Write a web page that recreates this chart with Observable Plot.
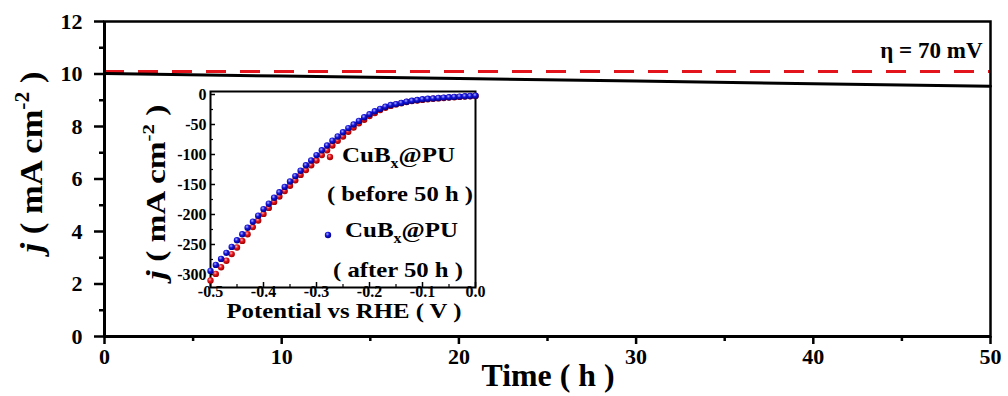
<!DOCTYPE html>
<html><head><meta charset="utf-8">
<script src="https://cdn.jsdelivr.net/npm/d3@7"></script>
<script src="https://cdn.jsdelivr.net/npm/@observablehq/plot@0.6"></script>
<style>
body{margin:0;background:#fff;}
#wrap{position:relative;width:1008px;height:396px;overflow:hidden;}
#inset{position:absolute;left:140px;top:84px;}
#wrap svg text, #wrap svg tspan{font-family:"Liberation Serif","Times New Roman",serif !important;font-weight:bold;white-space:pre;font-variant:normal !important;}
</style></head><body><div id="wrap"><div id="main"></div><div id="inset"></div></div>
<script>
// ---- main chart data ----
const timeH = [0, 10, 20, 30, 40, 50];
const jStab = [10.02, 9.92, 9.83, 9.73, 9.63, 9.53];
const etaLevel = [10.1];
const etaLabel = ["η = 70 mV"];
const xMajorTicks = [0, 10, 20, 30, 40, 50];
const xMinorTicks = [5, 15, 25, 35, 45];
const yMajorTicks = [0, 2, 4, 6, 8, 10, 12];
const yMinorTicks = [1, 3, 5, 7, 9, 11];

// ---- inset data ----
const potential = [-0.50,-0.49,-0.48,-0.47,-0.46,-0.45,-0.44,-0.43,-0.42,-0.41,-0.40,-0.39,-0.38,-0.37,-0.36,-0.35,-0.34,-0.33,-0.32,-0.31,-0.30,-0.29,-0.28,-0.27,-0.26,-0.25,-0.24,-0.23,-0.22,-0.21,-0.20,-0.19,-0.18,-0.17,-0.16,-0.15,-0.14,-0.13,-0.12,-0.11,-0.10,-0.09,-0.08,-0.07,-0.06,-0.05,-0.04,-0.03,-0.02,-0.01,0.00];
const jBefore = [-310,-299,-288,-277,-266,-255,-244,-233,-221,-210,-199,-189,-179,-170,-161,-152,-143,-134,-126,-118,-110,-101,-93,-85,-77,-70,-62,-55,-48,-42,-36,-31,-26,-22,-19,-16.5,-14.5,-12.5,-11,-10,-9,-8,-7.2,-6.5,-5.8,-5.2,-4.6,-4,-3.5,-3,-2.5];
const jAfter = [-294,-284,-274,-264,-254,-243,-233,-222,-212,-202,-191,-182,-172,-163,-154,-145,-136,-127,-118,-110,-101,-93,-85,-77,-70,-63,-56,-50,-44,-38,-33,-28,-24,-20.5,-17.5,-16,-14,-12,-10.5,-9.2,-8,-7.2,-6.5,-5.8,-5.2,-4.6,-4,-3.5,-3,-2.5,-2];
const inXTicks = [-0.5, -0.4, -0.3, -0.2, -0.1, 0.0];
const inXMinor = [-0.45, -0.35, -0.25, -0.15, -0.05];
const inYTicks = [0, -50, -100, -150, -200, -250, -300];
const inYMinor = [-25, -75, -125, -175, -225, -275];
const seriesNames = ["before 50 h", "after 50 h"];

const RED = "#e3141b", BLUE = "#1515dc";
const FONT = "Liberation Serif";

const stab = timeH.map((t, i) => ({t, j: jStab[i]}));

const mainSvg = Plot.plot({
  width: 1008, height: 396,
  marginLeft: 104, marginRight: 18, marginTop: 21, marginBottom: 60,
  x: {domain: [0, 50]},
  y: {domain: [0, 12]},
  style: {fontFamily: FONT, fontWeight: "bold", fontSize: "22px", color: "#000", background: "#fff", overflow: "visible"},
  marks: [
    Plot.ruleY(etaLevel, {stroke: RED, strokeWidth: 3, strokeDasharray: "20,14"}),
    Plot.line(stab, {x: "t", y: "j", stroke: "#000", strokeWidth: 3}),
    Plot.frame({strokeWidth: 2.5}),
    Plot.ruleY([0], {strokeWidth: 3}),
    Plot.ruleX([0], {strokeWidth: 3}),
    Plot.axisX({ticks: xMajorTicks, tickSize: 8, tickPadding: 4, strokeWidth: 2.5, fontSize: 22, fontFamily: FONT, label: null, tickFormat: d => String(d)}),
    Plot.axisX({ticks: xMinorTicks, tickSize: 5, strokeWidth: 2.5, label: null, tickFormat: () => ""}),
    Plot.axisY({ticks: yMajorTicks, tickSize: 10, tickPadding: 12, strokeWidth: 2.5, fontSize: 22, fontFamily: FONT, label: null, tickFormat: d => String(d)}),
    Plot.axisY({ticks: yMinorTicks, tickSize: 5, strokeWidth: 2.5, label: null, tickFormat: () => ""}),
    Plot.text(etaLabel, {x: () => 50, y: () => 10.9, textAnchor: "end", dx: -8, fontSize: 23, fontFamily: FONT})
  ]
});
document.getElementById("main").appendChild(mainSvg);

const ms = d3.select(mainSvg);
ms.append("text").attr("x", 548).attr("y", 386).attr("text-anchor", "middle")
  .attr("font-size", 31).attr("textLength", 133).attr("lengthAdjust", "spacingAndGlyphs").text("Time ( h )");
const yt = ms.append("text").attr("transform", "translate(42,162) rotate(-90)").attr("text-anchor", "middle")
  .attr("font-size", 32).attr("textLength", 181).attr("lengthAdjust", "spacingAndGlyphs");
yt.append("tspan").attr("font-style", "italic").text("j");
yt.append("tspan").text(" ( mA cm");
yt.append("tspan").attr("font-size", 20).attr("dy", -13).text("-2");
yt.append("tspan").attr("dy", 13).text(" )");

// ---- inset ----
const before = potential.map((p, i) => ({p, j: jBefore[i], s: seriesNames[0]}));
const after = potential.map((p, i) => ({p, j: jAfter[i], s: seriesNames[1]}));
const Y0 = -321.7;
const insetSvg = Plot.plot({
  width: 345, height: 240,
  marginLeft: 70, marginRight: 10, marginTop: 7, marginBottom: 37,
  x: {domain: [-0.5, 0]},
  y: {domain: [Y0, 5]},
  style: {fontFamily: FONT, fontWeight: "bold", fontSize: "16px", color: "#000", background: "transparent", overflow: "visible"},
  marks: [
    Plot.frame({strokeWidth: 2}),
    Plot.ruleY(inYTicks, {x1: -0.5, x2: -0.5 + 5 / 528, strokeWidth: 1.5}),
    Plot.ruleY(inYMinor, {x1: -0.5, x2: -0.5 + 3 / 528, strokeWidth: 1.2}),
    Plot.ruleX(inXTicks, {y1: Y0, y2: Y0 + 5 / 0.6, strokeWidth: 1.5}),
    Plot.ruleX(inXMinor, {y1: Y0, y2: Y0 + 3 / 0.6, strokeWidth: 1.2}),
    Plot.axisY({ticks: inYTicks, tickSize: 0, tickPadding: 4, fontSize: 16, fontFamily: FONT, label: null, tickFormat: d => String(d)}),
    Plot.axisX({ticks: inXTicks, tickSize: 0, tickPadding: 0, dy: -2, fontSize: 16, fontFamily: FONT, label: null, tickFormat: d => d.toFixed(1)}),
    Plot.dot(before, {x: "p", y: "j", r: 3.2, fill: "url(#gRed)", stroke: "none"}),
    Plot.dot(after, {x: "p", y: "j", r: 3.2, fill: "url(#gBlue)", stroke: "none"})
  ]
});
document.getElementById("inset").appendChild(insetSvg);

const is = d3.select(insetSvg);
const defs = is.append("defs");
function grad(id, hi, mid, lo) {
  const g = defs.append("radialGradient").attr("id", id).attr("cx", "40%").attr("cy", "35%").attr("r", "65%");
  g.append("stop").attr("offset", "0%").attr("stop-color", hi);
  g.append("stop").attr("offset", "45%").attr("stop-color", mid);
  g.append("stop").attr("offset", "100%").attr("stop-color", lo);
}
grad("gRed", "#ffb0b0", RED, "#a00000");
grad("gBlue", "#b0b0ff", BLUE, "#000085");

const ox = 140, oy = 84;
// inset axis titles
is.append("text").attr("x", 344 - ox).attr("y", 318 - oy).attr("text-anchor", "middle")
  .attr("font-size", 21).attr("textLength", 235).attr("lengthAdjust", "spacingAndGlyphs").text("Potential vs RHE ( V )");
const iyt = is.append("text").attr("transform", `translate(${165 - ox},${192 - oy}) rotate(-90)`).attr("text-anchor", "middle")
  .attr("font-size", 27).attr("textLength", 175).attr("lengthAdjust", "spacingAndGlyphs");
iyt.append("tspan").attr("font-style", "italic").text("j");
iyt.append("tspan").text(" ( mA cm");
iyt.append("tspan").attr("font-size", 17).attr("dy", -11).text("-2");
iyt.append("tspan").attr("dy", 11).text(" )");

// legend
function cub(x, y) {
  const t = is.append("text").attr("x", x - ox).attr("y", y - oy).attr("font-size", 22).attr("text-anchor", "start")
    .attr("textLength", 113).attr("lengthAdjust", "spacingAndGlyphs");
  t.append("tspan").text("CuB");
  t.append("tspan").attr("font-size", 14).attr("dy", 6).text("x");
  t.append("tspan").attr("dy", -6).text("@PU");
}
is.append("circle").attr("cx", 330 - ox).attr("cy", 157 - oy).attr("r", 3.2).attr("fill", "url(#gRed)");
cub(342, 162);
is.append("text").attr("x", 327 - ox).attr("y", 201 - oy).attr("font-size", 22).attr("text-anchor", "start")
  .attr("textLength", 146).attr("lengthAdjust", "spacingAndGlyphs").text("( " + seriesNames[0] + " )");
is.append("circle").attr("cx", 328 - ox).attr("cy", 235 - oy).attr("r", 3.2).attr("fill", "url(#gBlue)");
cub(345, 237);
is.append("text").attr("x", 333 - ox).attr("y", 277 - oy).attr("font-size", 22).attr("text-anchor", "start")
  .attr("textLength", 130).attr("lengthAdjust", "spacingAndGlyphs").text("( " + seriesNames[1] + " )");
</script></body></html>
